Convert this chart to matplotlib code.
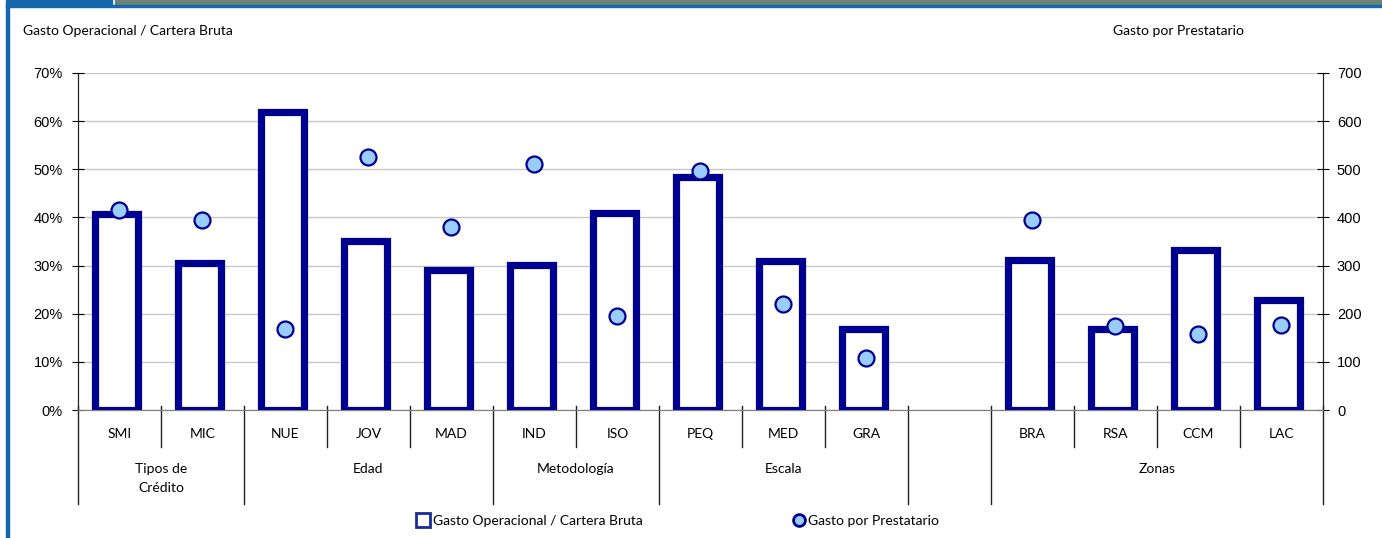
import matplotlib
matplotlib.use("Agg")
import matplotlib.pyplot as plt
from matplotlib.lines import Line2D
from matplotlib.patches import Rectangle

# Gasto operacional / cartera bruta (%) y gasto por prestatario, por segmento
categorias = ["SMI", "MIC", "NUE", "JOV", "MAD", "IND", "ISO", "PEQ", "MED", "GRA",
              "", "BRA", "RSA", "CCM", "LAC"]
gasto_cartera = [40.8, 30.6, 61.8, 35.2, 29.1, 30.2, 41.0, 48.4, 31.0, 16.8,
                 None, 31.2, 16.8, 33.3, 22.8]
gasto_prestatario = [415, 395, 168, 526, 380, 510, 196, 496, 220, 109,
                     None, 395, 175, 158, 177]
grupos = ["Tipos de\nCrédito", "Edad", "Metodología", "Escala", "Zonas"]
grupo_inicio = [0, 2, 5, 7, 11]
grupo_fin = [1, 4, 6, 9, 14]
# limites de grupo (entre categorias) que llevan linea larga
cortes_largos = [-0.5, 1.5, 4.5, 6.5, 9.5, 10.5, 14.5]

AZUL = "#000090"
CELESTE = "#99CCFF"
LABEL_FONT = "Lato"
TICK_FONT = "Liberation Sans"
FS = 10

W, H = 1382, 538
fig = plt.figure(figsize=(W / 100, H / 100), dpi=100)

# marco superior e izquierdo
fig.patches.append(Rectangle((6 / W, 1 - 5 / H), 106 / W, 5 / H, transform=fig.transFigure,
                             color="#1467AC", zorder=0))
fig.patches.append(Rectangle((115 / W, 1 - 5 / H), (W - 115) / W, 5 / H, transform=fig.transFigure,
                             color="#6B8276", zorder=0))
fig.patches.append(Rectangle((6 / W, 1 - 7 / H), (W - 6) / W, 2 / H, transform=fig.transFigure,
                             color="#1467AC", zorder=0))
fig.patches.append(Rectangle((6 / W, 0), 2.5 / W, 1 - 5 / H, transform=fig.transFigure,
                             color="#1467AC", zorder=0))

x0, x1, ytop, ybot = 78, 1323, 73, 410
ax = fig.add_axes([x0 / W, (H - ybot) / H, (x1 - x0) / W, (ybot - ytop) / H])
ax2 = ax.twinx()

xs = [i for i, v in enumerate(gasto_cartera) if v is not None]
# las barras quedan un poco a la izquierda del centro de la categoria
ax.bar([x - 0.035 for x in xs], [gasto_cartera[i] for i in xs], width=0.51, color="white",
       edgecolor=AZUL, linewidth=5.2, zorder=3)
ax2.plot(xs, [gasto_prestatario[i] for i in xs], ls="none", marker="o", ms=11.5,
         mfc=CELESTE, mec=AZUL, mew=1.6, zorder=4)

ax.set_xlim(-0.5, len(categorias) - 0.5)
ax.set_ylim(0, 70)
ax2.set_ylim(0, 700)
ax.set_yticks(range(0, 71, 10))
ax.set_yticklabels([f"{v}%" for v in range(0, 71, 10)])
ax2.set_yticks(range(0, 701, 100))
ax.yaxis.grid(True, color="#C8C8C8", lw=1)
ax.set_axisbelow(True)
ax.set_xticks([])

for a in (ax, ax2):
    a.spines["top"].set_visible(False)
    a.spines["bottom"].set_color("#808080")
    a.spines["left"].set_color("#202020")
    a.spines["right"].set_color("#202020")
ax.tick_params(axis="y", direction="inout", length=8, pad=7, labelsize=10.5)
ax2.tick_params(axis="y", direction="inout", length=8, pad=6, labelsize=10.5)
for lab in ax.get_yticklabels() + ax2.get_yticklabels():
    lab.set_fontfamily(TICK_FONT)

# separadores del eje de categorias
tr = ax.get_xaxis_transform()
px = 1 / (ybot - ytop)
for b in [i + 0.5 for i in range(-1, len(categorias))]:
    fondo = -94 * px if b in cortes_largos else -37 * px
    ax.plot([b, b], [4 * px, fondo], color="#202020", lw=1, transform=tr, clip_on=False)

for i, c in enumerate(categorias):
    ax.text(i, -24 * px, c, ha="center", va="center", fontsize=FS,
            family=LABEL_FONT, transform=tr)
for g, a, b in zip(grupos, grupo_inicio, grupo_fin):
    ax.text((a + b) / 2, -53 * px, g, ha="center", va="top", fontsize=FS,
            family=LABEL_FONT, linespacing=1.65, transform=tr)

fig.text(23 / W, 1 - 31 / H, "Gasto Operacional / Cartera Bruta", ha="left", va="center",
         fontsize=FS, family=LABEL_FONT)
fig.text(1113 / W, 1 - 31 / H, "Gasto por Prestatario", ha="left", va="center",
         fontsize=FS, family=LABEL_FONT)

handles = [Line2D([], [], ls="none", marker="s", ms=9.5, mfc="white", mec="#1A2A9A", mew=2),
           Line2D([], [], ls="none", marker="o", ms=8.5, mfc=CELESTE, mec=AZUL, mew=2)]
fig.legend(handles, ["Gasto Operacional / Cartera Bruta", "Gasto por Prestatario"],
           loc="center", bbox_to_anchor=(678 / W, 1 - 521 / H), ncol=2, frameon=False,
           handlelength=0.9, handletextpad=0.25, columnspacing=10.8,
           prop={"family": LABEL_FONT, "size": FS})

fig.savefig("out.png", dpi=100)
